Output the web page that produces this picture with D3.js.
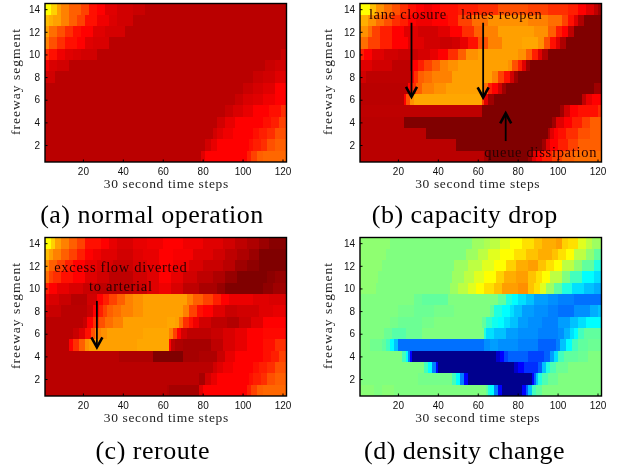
<!DOCTYPE html>
<html>
<head>
<meta charset="utf-8">
<script src="https://cdn.jsdelivr.net/npm/d3@7"></script>
<style>
  body { margin: 0; background: #fff; }
  svg { display: block; filter: blur(0.4px); }
  .tick text { font-family: "Liberation Sans", sans-serif; font-size: 10px; fill: #111; }
  .axis-label { font-family: "Liberation Serif", serif; font-size: 13.5px; letter-spacing: 0.65px; fill: #222; }
  .segment-label { letter-spacing: 1px; }
  .caption { font-family: "Liberation Serif", serif; font-size: 26px; letter-spacing: 0.5px; fill: #000; }
  .note { font-family: "Liberation Serif", serif; font-size: 14.5px; letter-spacing: 0.7px; fill: #2a0000; }
</style>
</head>
<body>
<div id="chart"></div>
<script>
// every row is a list of [first time step, level], rows run from segment 14 down to 1
const normalOperation = [
  [[1,100],[4,88],[7,75],[9,67],[13,58],[19,50],[23,37],[27,33],[31,25],[37,21],[45,19],[51,15]],
  [[1,83],[3,79],[5,75],[9,67],[13,58],[17,50],[21,37],[27,29],[33,24],[37,21],[45,15]],
  [[1,75],[3,62],[7,54],[11,45],[15,37],[19,33],[25,25],[31,22],[41,15]],
  [[1,67],[3,54],[7,45],[11,37],[17,33],[21,25],[25,23],[33,15]],
  [[1,45],[3,37],[7,29],[11,25],[15,23],[19,21],[27,15],[119,19]],
  [[1,29],[3,23],[7,21],[13,15],[111,19],[116,21]],
  [[1,21],[6,15],[105,19],[110,21],[116,25]],
  [[1,15],[100,19],[105,22],[110,25],[116,33]],
  [[1,15],[96,19],[100,23],[105,25],[110,29],[116,33]],
  [[1,15],[91,19],[95,23],[100,27],[105,33],[113,37],[119,45]],
  [[1,15],[87,21],[91,27],[96,33],[110,37],[114,41],[118,50]],
  [[1,15],[85,21],[87,25],[90,29],[95,33],[105,37],[108,41],[112,45],[116,54]],
  [[1,15],[81,21],[84,27],[87,33],[103,37],[105,41],[109,45],[112,54],[116,58]],
  [[1,15],[79,25],[81,33],[102,41],[104,50],[107,58],[110,60]],
]

const capacityDrop = [
  [[1,100],[6,83],[9,71],[13,62],[17,54],[21,45],[25,37],[29,33],[33,29],[37,33],[41,37],[50,41],[60,45],[70,54],[85,50],[95,45],[105,41],[110,33],[114,25],[118,16],[120,8]],
  [[1,79],[5,71],[9,62],[13,54],[17,45],[21,41],[25,33],[29,29],[37,33],[45,37],[50,50],[57,62],[65,71],[85,67],[95,62],[102,50],[105,37],[108,25],[110,12],[113,0]],
  [[1,71],[5,62],[7,50],[11,41],[17,33],[23,25],[30,21],[40,25],[46,33],[52,45],[58,58],[63,67],[70,75],[88,71],[95,58],[99,41],[102,33],[105,16],[108,0]],
  [[1,62],[5,50],[11,41],[17,33],[25,25],[33,21],[41,19],[47,21],[51,27],[55,37],[60,54],[65,67],[72,75],[82,77],[90,71],[93,54],[96,37],[99,25],[101,12],[104,0]],
  [[1,41],[3,33],[7,25],[13,21],[20,19],[30,22],[36,27],[40,33],[45,45],[50,58],[54,71],[60,75],[80,71],[84,58],[87,41],[90,25],[92,12],[95,0]],
  [[1,25],[7,21],[17,16],[27,33],[30,41],[33,50],[37,58],[41,67],[45,71],[50,75],[75,71],[77,54],[80,41],[82,25],[84,8],[86,0]],
  [[1,21],[4,16],[26,33],[28,45],[30,58],[33,62],[37,67],[47,75],[67,67],[70,50],[73,37],[76,21],[78,8],[80,0]],
  [[1,15],[25,33],[27,45],[29,58],[32,67],[38,71],[44,75],[63,62],[65,41],[67,33],[70,21],[72,8],[74,0],[118,8]],
  [[1,15],[23,33],[24,54],[26,71],[28,77],[62,50],[63,25],[65,8],[68,0],[112,16],[114,27],[117,33]],
  [[1,16],[62,0],[101,8],[103,21],[106,33],[110,37],[120,45]],
  [[1,15],[23,0],[97,8],[99,25],[103,33],[107,41],[112,50],[116,58]],
  [[1,15],[34,0],[95,12],[96,25],[98,33],[100,37],[104,45],[110,54],[116,58]],
  [[1,15],[49,0],[92,8],[94,25],[96,33],[100,41],[105,50],[110,58]],
  [[1,15],[63,8],[65,0],[85,8],[87,25],[89,33],[92,41],[97,50],[102,58],[108,62]],
]

const reroute = [
  [[1,100],[4,88],[6,75],[9,67],[13,58],[17,50],[21,37],[29,33],[33,27],[37,23],[45,27],[52,29],[60,33],[70,29],[80,25],[90,21],[96,16],[102,12],[108,7],[113,2]],
  [[1,83],[3,75],[5,67],[9,58],[13,50],[17,41],[21,33],[25,29],[29,25],[37,21],[45,25],[50,27],[58,33],[65,31],[75,25],[85,21],[91,16],[97,12],[103,7],[108,0]],
  [[1,71],[3,58],[7,50],[11,41],[15,33],[21,27],[27,23],[35,19],[45,23],[52,27],[58,33],[65,29],[73,23],[80,19],[90,15],[96,8],[102,4],[108,0]],
  [[1,62],[3,50],[5,45],[9,37],[15,33],[21,25],[27,21],[33,16],[45,21],[52,25],[58,33],[64,27],[70,21],[77,16],[85,12],[91,6],[97,0],[112,3],[116,6]],
  [[1,41],[3,33],[7,27],[13,23],[20,19],[27,16],[45,19],[52,25],[58,29],[64,23],[70,16],[78,11],[87,6],[91,0],[110,4],[115,8]],
  [[1,27],[3,23],[8,19],[14,14],[22,21],[27,33],[30,41],[33,50],[37,58],[41,67],[45,71],[50,75],[72,67],[75,58],[80,50],[85,41],[89,33],[93,28],[105,25],[113,23]],
  [[1,21],[3,19],[9,15],[22,19],[25,33],[28,41],[30,50],[32,58],[35,62],[39,67],[45,71],[50,75],[70,67],[73,50],[77,37],[80,33],[85,25],[91,19],[97,21],[108,25],[115,27]],
  [[1,15],[20,19],[22,33],[25,45],[28,54],[31,62],[35,67],[40,75],[62,77],[66,75],[68,62],[70,45],[73,37],[75,29],[78,21],[84,16],[92,13],[98,19],[104,25],[110,33]],
  [[1,15],[15,19],[18,25],[21,37],[24,54],[26,67],[29,71],[32,75],[50,77],[63,67],[65,50],[67,33],[69,21],[72,16],[84,19],[90,23],[96,27],[102,33],[110,35]],
  [[1,15],[13,33],[15,45],[18,58],[21,71],[23,75],[47,77],[63,33],[64,16],[66,12],[70,10],[84,16],[90,23],[96,27],[102,33],[110,37],[116,45]],
  [[1,15],[38,12],[55,0],[70,10],[78,12],[87,19],[91,27],[96,33],[110,37],[114,41],[118,50]],
  [[1,15],[85,21],[87,25],[90,29],[95,33],[105,37],[108,41],[112,45],[116,54]],
  [[1,15],[78,10],[81,21],[84,27],[87,33],[103,37],[105,41],[109,45],[112,54],[116,58]],
  [[1,15],[62,13],[63,10],[78,25],[80,33],[102,41],[104,50],[107,58],[110,60]],
]

const densityChange = [
  [[1,3],[16,0],[57,6],[63,9],[66,12],[71,19],[76,25],[82,31],[88,37],[92,41],[99,44],[102,34],[105,31],[110,19],[114,12],[117,6]],
  [[1,3],[14,0],[54,6],[60,12],[65,19],[71,25],[78,31],[84,37],[90,41],[97,37],[100,31],[104,25],[108,12],[114,3],[118,-6]],
  [[1,3],[12,0],[48,6],[55,12],[62,19],[68,25],[74,34],[79,41],[85,44],[90,37],[94,31],[98,25],[102,12],[108,3],[112,-6],[118,-19]],
  [[1,3],[10,0],[47,6],[53,12],[58,19],[63,25],[69,34],[73,41],[79,44],[85,37],[89,31],[92,25],[96,12],[102,0],[106,-12],[112,-25],[118,-31]],
  [[1,3],[9,0],[46,6],[50,12],[55,19],[59,25],[63,31],[68,37],[72,44],[80,47],[85,37],[88,31],[91,19],[94,6],[98,-6],[102,-19],[107,-31],[113,-37],[118,-41]],
  [[1,0],[28,-4],[32,-6],[45,0],[70,-6],[74,-19],[77,-25],[80,-31],[84,-37],[88,-44],[95,-47],[100,-50],[108,-53]],
  [[1,0],[20,-2],[28,-4],[38,-2],[48,0],[66,-6],[68,-19],[72,-25],[76,-31],[78,-37],[82,-44],[88,-47],[95,-50],[100,-53],[108,-47],[116,-41],[120,-37]],
  [[1,0],[16,-2],[20,-4],[32,-2],[38,0],[62,-6],[64,-15],[67,-22],[70,-25],[73,-31],[76,-37],[80,-44],[85,-47],[92,-50],[100,-44],[106,-37],[110,-31],[114,-25]],
  [[1,0],[13,-4],[17,-8],[24,-4],[32,0],[63,-19],[64,-31],[68,-37],[74,-44],[80,-47],[90,-50],[100,-47],[103,-40],[106,-31],[108,-25],[110,-12],[113,-6]],
  [[1,0],[6,-3],[12,-6],[14,-12],[16,-25],[18,-37],[20,-53],[63,-47],[66,-44],[70,-47],[80,-50],[90,-56],[99,-50],[101,-37],[104,-25],[107,-12],[110,-6],[115,-4]],
  [[1,0],[22,-12],[24,-25],[25,-50],[26,-75],[27,-97],[69,-85],[71,-75],[73,-62],[75,-56],[85,-62],[93,-56],[96,-44],[98,-31],[100,-12],[103,-6],[110,-4],[115,0]],
  [[1,0],[33,-12],[35,-25],[37,-50],[39,-75],[40,-97],[78,-85],[80,-75],[83,-66],[90,-56],[92,-37],[94,-19],[96,-10],[99,-4],[105,0]],
  [[1,0],[30,-2],[47,-12],[49,-25],[51,-50],[53,-75],[55,-97],[87,-75],[88,-56],[89,-37],[90,-19],[92,-10],[95,-4],[100,0]],
  [[1,2],[8,0],[12,2],[18,0],[64,-6],[65,-19],[66,-25],[68,-50],[70,-75],[72,-97],[82,-75],[84,-56],[85,-37],[87,-12],[89,-6],[92,0]],
]

const stepTicks = [20, 40, 60, 80, 100, 120]
const segmentTicks = [2, 4, 6, 8, 10, 12, 14]
const stepRange = [1, 122]
const segmentRange = [0.5, 14.5]

const captions = ['(a) normal operation', '(b) capacity drop', '(c) reroute', '(d) density change']

// [center step, segment, text]
const capacityNotes = [
  [25, 13.5, 'lane closure'],
  [72, 13.5, 'lanes reopen'],
  [91.5, 1.35, 'queue dissipation'],
]
const rerouteNotes = [
  [39, 11.85, 'excess flow diverted'],
  [39, 10.2, 'to arterial'],
]
// [step, from segment, to segment]
const capacityArrows = [
  [26.8, 12.8, 6.25],
  [62.7, 12.8, 6.2],
  [74, 2.35, 4.8],
]
const rerouteArrows = [
  [27, 8.9, 4.8],
]

// the hot end of the colour map: level 0 to 100
const hotColor = d3.scaleLinear()
  .domain([0, 33, 100])
  .range(['#800000', '#ff0000', '#ffff00'])

// the full colour map, centred on no change: level -100 to 100
const jetColor = d3.scaleLinear()
  .domain([-100, -75, -25, 0, 25, 75, 100])
  .range(['#00007f', '#0000ff', '#00ffff', '#80ff80', '#ffff00', '#ff0000', '#7f0000'])

const panels = [
  { left: 45, top: 3.5, rows: normalOperation, color: hotColor, notes: [], arrows: [], labelX: 20, stepLabelX: 166.3, capX: 152, capY: 222.5 },
  { left: 360, top: 3.5, rows: capacityDrop, color: hotColor, notes: capacityNotes, arrows: capacityArrows, labelX: 331.5, stepLabelX: 477.7, capX: 464.8, capY: 222.5 },
  { left: 45, top: 237.5, rows: reroute, color: hotColor, notes: rerouteNotes, arrows: rerouteArrows, labelX: 20, stepLabelX: 166.3, capX: 152.7, capY: 459 },
  { left: 360, top: 237.5, rows: densityChange, color: jetColor, notes: [], arrows: [], labelX: 331.5, stepLabelX: 477.7, capX: 464.5, capY: 459 },
]

const plotWidth = 241.5
const plotHeight = 158.5

const svg = d3.select('#chart').append('svg')
  .attr('width', 618)
  .attr('height', 468)

panels.forEach((panel, i) => {
  const x = d3.scaleLinear().domain(stepRange).range([0, plotWidth])
  const y = d3.scaleLinear().domain(segmentRange).range([plotHeight, 0])
  const g = svg.append('g').attr('transform', `translate(${panel.left},${panel.top})`)

  panel.rows.forEach((row, r) => {
    const segment = 14 - r
    g.selectAll(null)
      .data(row)
      .join('rect')
      .attr('shape-rendering', 'crispEdges')
      .attr('x', d => x(d[0]))
      .attr('y', y(segment + 0.5))
      .attr('width', (d, k) => x(k + 1 < row.length ? row[k + 1][0] : stepRange[1]) - x(d[0]))
      .attr('height', y(segment - 0.5) - y(segment + 0.5))
      .attr('fill', d => panel.color(d[1]))
  })

  const xAxis = d3.axisBottom(x).tickValues(stepTicks).tickSize(-2.5).tickPadding(6)
  const yAxis = d3.axisLeft(y).tickValues(segmentTicks).tickSize(-2.5).tickPadding(5)
  g.append('g').attr('transform', `translate(0,${plotHeight})`).call(xAxis)
    .call(a => a.select('.domain').remove())
  g.append('g').call(yAxis)
    .call(a => a.select('.domain').remove())

  g.append('rect')
    .attr('width', plotWidth)
    .attr('height', plotHeight)
    .attr('fill', 'none')
    .attr('stroke', '#000')
    .attr('stroke-width', 1.4)

  g.selectAll('.note')
    .data(panel.notes)
    .join('text')
    .attr('class', 'note')
    .attr('text-anchor', 'middle')
    .attr('x', d => x(d[0]))
    .attr('y', d => y(d[1]))
    .attr('dy', '0.32em')
    .text(d => d[2])

  panel.arrows.forEach(a => {
    const px = x(a[0])
    const y1 = y(a[1])
    const y2 = y(a[2])
    const dir = y2 > y1 ? -1 : 1
    g.append('path')
      .attr('d', `M${px},${y1}L${px},${y2}`)
      .attr('fill', 'none')
      .attr('stroke', '#000')
      .attr('stroke-width', 1.8)
    g.append('path')
      .attr('d', `M${px - 5.5},${y2 + dir * 10}L${px},${y2}L${px + 5.5},${y2 + dir * 10}`)
      .attr('fill', 'none')
      .attr('stroke', '#000')
      .attr('stroke-width', 2.6)
  })

  svg.append('text')
    .attr('class', 'axis-label')
    .attr('text-anchor', 'middle')
    .attr('x', panel.stepLabelX)
    .attr('y', panel.top + plotHeight + 26)
    .text('30 second time steps')

  svg.append('text')
    .attr('class', 'axis-label segment-label')
    .attr('text-anchor', 'middle')
    .attr('transform', `translate(${panel.labelX},${panel.top + 78}) rotate(-90)`)
    .text('freeway segment')

  svg.append('text')
    .attr('class', 'caption')
    .attr('text-anchor', 'middle')
    .attr('x', panel.capX)
    .attr('y', panel.capY)
    .text(captions[i])
})
</script>
</body>
</html>
